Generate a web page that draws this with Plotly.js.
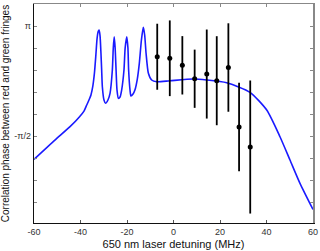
<!DOCTYPE html>
<html>
<head>
<meta charset="utf-8">
<script src="https://cdn.plot.ly/plotly-3.0.1.min.js"></script>
<style>html,body{margin:0;padding:0;background:#fff;}#chart{width:320px;height:251px;}</style>
</head>
<body>
<div id="chart"></div>
<script>
// Theory curve: detuning (MHz) and phase (in units of pi)
const curveX = [-60, -51, -44.5, -40.5, -38.5, -37.5, -36.5, -35.5, -34.7, -34.0, -33.4, -32.9, -32.4, -32.0, -31.6, -31.2, -30.9, -30.6, -29.9, -29.2, -28.2, -27.3, -26.3, -25.9, -25.5, -25.1, -24.7, -24.3, -23.7, -23.0, -22.3, -21.3, -20.8, -20.1, -19.6, -19.3, -18.7, -18.3, -17.4, -16.6, -15.6, -14.7, -13.8, -13.0, -12.4, -11.8, -10.8, -9.4, -7.2, -1.5, 8.5, 14.3, 22.9, 32.9, 40.1, 45.8, 50.1, 54.4, 60];
const curveY = [-0.818, -0.555, -0.373, -0.24, -0.16, -0.09, -0.02, 0.06, 0.18, 0.36, 0.60, 0.82, 0.925, 0.945, 0.87, 0.628, 0.40, 0.172, -0.009, -0.054, -0.009, 0.082, 0.40, 0.70, 0.854, 0.70, 0.40, 0.127, 0.014, 0.032, 0.127, 0.40, 0.70, 0.854, 0.70, 0.40, 0.127, 0.045, 0.073, 0.127, 0.27, 0.491, 0.809, 0.982, 0.877, 0.628, 0.355, 0.264, 0.240, 0.254, 0.277, 0.264, 0.227, 0.096, -0.146, -0.510, -0.827, -1.145, -1.502];

// Measured points (phase in units of pi) with error bars
const dataX = [-7.0, -1.6, 3.8, 9.1, 14.3, 18.6, 23.6, 28.2, 33.0];
const dataY = [0.581, 0.560, 0.464, 0.281, 0.345, 0.254, 0.434, -0.377, -0.650];
const dataErr = [0.45, 0.516, 0.398, 0.397, 0.607, 0.607, 0.603, 0.602, 0.907];

const xTicks = [-60, -40, -20, 0, 20, 40, 60];
const yTickVals = [1, 0.7, 0.4, 0.1, -0.2, -0.5, -0.8, -1.1, -1.4];
const yTickText = ['π', '', '', '', '', '-π/2', '', '', ''];

const xRange = [-60, 60];
const yRange = [-1.686, 1.300];

const traces = [
  {x: curveX, y: curveY, type: 'scatter', mode: 'lines',
   line: {color: '#1a1aff', width: 1.6, shape: 'spline', smoothing: 0.6},
   hoverinfo: 'skip', showlegend: false},
  {x: dataX, y: dataY, type: 'scatter', mode: 'markers',
   marker: {color: '#000', size: 5},
   error_y: {type: 'data', array: dataErr, visible: true, color: '#000', thickness: 1.8, width: 0},
   showlegend: false}
];

const tickFont = {family: 'Liberation Sans, Arial, sans-serif', size: 9, color: '#333'};
const layout = {
  width: 320, height: 251,
  margin: {l: 34, r: 7, t: 4, b: 28, pad: 0},
  paper_bgcolor: '#fff', plot_bgcolor: '#fff',
  showlegend: false,
  xaxis: {range: xRange, tickvals: xTicks, ticktext: xTicks.map(String),
    ticks: 'inside', ticklen: 3, tickcolor: '#555', tickwidth: 1,
    showline: true, linecolor: '#111', linewidth: 1.2, mirror: false,
    showgrid: false, zeroline: false, tickfont: tickFont,
    title: {text: '650 nm laser detuning (MHz)', font: {family: 'Liberation Sans, Arial, sans-serif', size: 11, color: '#111'}, standoff: 4}},
  xaxis2: {range: xRange, overlaying: 'x', side: 'top', tickvals: xTicks, showticklabels: false,
    ticks: 'inside', ticklen: 3, tickcolor: '#888', showline: true, linecolor: '#888', linewidth: 1.5,
    showgrid: false, zeroline: false},
  yaxis: {range: yRange, tickvals: yTickVals, ticktext: yTickText,
    ticks: 'inside', ticklen: 3, tickcolor: '#888', tickwidth: 1,
    showline: true, linecolor: '#111', linewidth: 1.2, mirror: false,
    showgrid: false, zeroline: false, tickfont: tickFont,
    title: {text: 'Correlation phase between red and green fringes', font: {family: 'Liberation Sans, Arial, sans-serif', size: 10, color: '#111'}, standoff: 3}},
  yaxis2: {range: yRange, overlaying: 'y', side: 'right', tickvals: yTickVals, showticklabels: false,
    ticks: 'inside', ticklen: 3, tickcolor: '#888', showline: true, linecolor: '#888', linewidth: 1.5,
    showgrid: false, zeroline: false}
};
// empty trace so the mirrored frame axes are drawn
traces.push({x: [], y: [], xaxis: 'x2', yaxis: 'y2', type: 'scatter', showlegend: false});

Plotly.newPlot('chart', traces, layout, {staticPlot: true, displayModeBar: false});
</script>
</body>
</html>
